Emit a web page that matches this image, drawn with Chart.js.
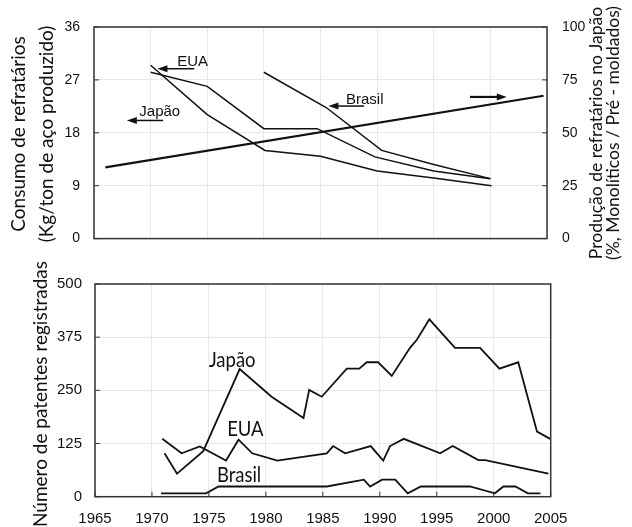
<!DOCTYPE html>
<html>
<head>
<meta charset="utf-8">
<script src="https://cdn.jsdelivr.net/npm/chart.js@4.4.1/dist/chart.umd.min.js"></script>
<style>
    body { margin: 0; background: #fff; width: 632px; height: 527px; position: relative; overflow: hidden; }
    #top-chart { position: absolute; left: 0; top: 0; }
    #bottom-chart { position: absolute; left: 0; top: 262px; }
    .axis-title {
        position: absolute;
        white-space: nowrap;
        text-align: center;
        color: #111;
        transform: translate(-50%, -50%) rotate(-90deg);
    }
</style>
</head>
<body>
<canvas id="top-chart" width="632" height="262"></canvas>
<canvas id="bottom-chart" width="632" height="265"></canvas>

<div class="axis-title" style="left:32px; top:134px; font:19px Lato; line-height:28px;">Consumo de refratários<br>(Kg/ton de aço produzido)</div>
<div class="axis-title" style="left:604px; top:133px; font:17.5px Lato; line-height:17px;">Produção de refratários no Japão<br>(%, Monolíticos / Pré - moldados)</div>
<div class="axis-title" style="left:40px; top:394px; font:19px Lato; line-height:24px;">Número de patentes registradas</div>

<script>
// Top panel: refractory consumption (kg per ton of steel)
const japanYearsTop = [1970, 1975, 1980.1, 1985, 1990, 1995, 2000.1];
const japanTop = [29.5, 21.1, 15.0, 14.0, 11.5, 10.3, 9.0];
const usaYearsTop = [1970, 1975, 1980, 1984.7, 1989.8, 1995, 2000];
const usaTop = [28.3, 25.9, 18.7, 18.7, 13.9, 11.5, 10.2];
const brazilYearsTop = [1980, 1985.5, 1990.4, 1995, 2000];
const brazilTop = [28.3, 22.3, 15.0, 12.6, 10.2];
// Japan monolithic / shaped share (right axis)
const monoYears = [1966, 2004.7];
const monoShare = [33.7, 67.5];

// Bottom panel: registered patents
const japanYears = [1971.1, 1972.2, 1974.5, 1977.7, 1980.5, 1983.3, 1983.8, 1984.9, 1987.1, 1988.2, 1988.85, 1989.85,
    1991.05, 1992.65, 1993.25, 1994.35, 1996.6, 1998.8, 2000.5, 2002.15, 2003.8, 2004.95];
const japanPatents = [102, 54, 107, 300, 235, 185, 251, 235, 301, 301, 316, 316,
    284, 350, 369, 417, 350, 350, 301, 316, 153, 136];
const usaYears = [1970.9, 1972.6, 1974.2, 1976.5, 1977.6, 1978.8, 1981, 1985.35, 1985.9, 1986.95, 1989.2, 1990.3,
    1990.9, 1992.1, 1995.3, 1996.4, 1998.65, 1999.25, 2004.8];
const usaPatents = [136, 102, 118, 85, 134, 102, 85, 102, 119, 102, 119, 85,
    119, 136, 102, 119, 86, 86, 54];
const brazilYears = [1970.8, 1974.75, 1975.85, 1985.35, 1988.6, 1989.15, 1990.2, 1991.35, 1992.45, 1993.6, 1997.9,
    2000.1, 2000.85, 2001.9, 2003, 2004.1];
const brazilPatents = [8, 8, 24, 24, 40, 24, 40, 40, 8, 24, 24, 8, 24, 24, 8, 8];

// Tick labels
const yearTicks = [1965, 1970, 1975, 1980, 1985, 1990, 1995, 2000, 2005];
const consumoTicks = [0, 9, 18, 27, 36];
const shareTicks = [0, 25, 50, 75, 100];
const patentTicks = [0, 125, 250, 375, 500];

const GRID = '#e8e8e8';
const INK = '#111';
Chart.defaults.font.family = "'Liberation Sans', Arial, sans-serif";
Chart.defaults.color = INK;

function points(xs, ys) {
    return xs.map((x, i) => ({ x: x, y: ys[i] }));
}

function lineSet(label, xs, ys, width, axis) {
    return {
        label: label,
        data: points(xs, ys),
        borderColor: INK,
        borderWidth: width,
        pointRadius: 0,
        tension: 0,
        yAxisID: axis || 'y'
    };
}

// frame round the plot area and short inward tick marks
const framePlugin = {
    id: 'frame',
    afterDraw(chart, args, opts) {
        const { ctx, chartArea: a } = chart;
        ctx.save();
        ctx.strokeStyle = '#333';
        ctx.lineWidth = 1.5;
        ctx.strokeRect(a.left, a.top, a.right - a.left, a.bottom - a.top);
        ctx.lineWidth = 1;
        Object.values(chart.scales).forEach(s => {
            if (s.axis === 'x' && !opts.xTicks) return;
            s.ticks.forEach(t => {
                const p = s.getPixelForValue(t.value);
                ctx.beginPath();
                if (s.axis === 'x') {
                    ctx.moveTo(p, a.bottom);
                    ctx.lineTo(p, a.bottom - 5);
                } else if (s.position === 'left') {
                    ctx.moveTo(a.left, p);
                    ctx.lineTo(a.left + 5, p);
                } else {
                    ctx.moveTo(a.right, p);
                    ctx.lineTo(a.right - 5, p);
                }
                ctx.stroke();
            });
        });
        ctx.restore();
    }
};

function drawArrow(ctx, x1, x2, y, width) {
    const dir = x2 > x1 ? 1 : -1;
    ctx.lineWidth = width;
    ctx.beginPath();
    ctx.moveTo(x1, y);
    ctx.lineTo(x2 - dir * 6, y);
    ctx.stroke();
    ctx.beginPath();
    ctx.moveTo(x2, y);
    ctx.lineTo(x2 - dir * 10, y - 3.5);
    ctx.lineTo(x2 - dir * 10, y + 3.5);
    ctx.closePath();
    ctx.fill();
}

// labels and arrows, placed in data units through the chart's own scales
const notesPlugin = {
    id: 'notes',
    afterDatasetsDraw(chart, args, opts) {
        const { ctx } = chart;
        const sx = chart.scales.x, sy = chart.scales.y;
        ctx.save();
        ctx.fillStyle = INK;
        ctx.strokeStyle = INK;
        ctx.textBaseline = 'alphabetic';
        (opts.labels || []).forEach(n => {
            ctx.font = opts.font;
            const px = sx.getPixelForValue(n.x), py = sy.getPixelForValue(n.y);
            ctx.save();
            ctx.translate(px, py);
            ctx.scale(opts.squeeze || 1, 1);
            ctx.fillText(n.text, 0, 0);
            ctx.restore();
        });
        (opts.arrows || []).forEach(r => {
            drawArrow(ctx, sx.getPixelForValue(r.from), sx.getPixelForValue(r.to), sy.getPixelForValue(r.y), r.w);
        });
        ctx.restore();
    }
};

const topChart = new Chart(document.getElementById('top-chart'), {
    type: 'line',
    data: {
        datasets: [
            lineSet('Japão', japanYearsTop, japanTop, 1.5),
            lineSet('EUA', usaYearsTop, usaTop, 1.5),
            lineSet('Brasil', brazilYearsTop, brazilTop, 1.5),
            lineSet('Monolíticos / Pré-moldados', monoYears, monoShare, 2.2, 'y1')
        ]
    },
    options: {
        responsive: false,
        animation: false,
        layout: { padding: { top: 27, bottom: 0, left: 0, right: 0 } },
        plugins: {
            legend: { display: false },
            tooltip: { enabled: false },
            frame: { xTicks: false },
            notes: {
                font: "15px 'Liberation Sans'",
                labels: [
                    { text: 'EUA', x: 1972.35, y: 29.3 },
                    { text: 'Japão', x: 1969.0, y: 20.8 },
                    { text: 'Brasil', x: 1987.25, y: 22.9 }
                ],
                arrows: [
                    { from: 1973.85, to: 1970.6, y: 28.9, w: 1.5 },
                    { from: 1971.1, to: 1967.9, y: 20.1, w: 1.5 },
                    { from: 1988.85, to: 1985.7, y: 22.55, w: 1.5 },
                    { from: 1998.2, to: 2001.45, y: 24.1, w: 2.2 }
                ]
            }
        },
        scales: {
            x: {
                type: 'linear',
                min: yearTicks[0],
                max: yearTicks[yearTicks.length - 1],
                afterBuildTicks: s => { s.ticks = yearTicks.map(v => ({ value: v })); },
                ticks: { display: false },
                grid: { color: GRID, drawTicks: false },
                border: { display: false },
                afterFit: s => { s.height = 15.3; }
            },
            y: {
                position: 'left',
                min: 0,
                max: 36,
                afterBuildTicks: s => { s.ticks = consumoTicks.map(v => ({ value: v })); },
                ticks: { padding: 14, font: { size: 14 } },
                grid: { color: GRID, drawTicks: false },
                border: { display: false },
                afterFit: s => { s.width = 94; }
            },
            y1: {
                position: 'right',
                min: 0,
                max: 100,
                afterBuildTicks: s => { s.ticks = shareTicks.map(v => ({ value: v })); },
                ticks: { padding: 15, font: { size: 14 } },
                grid: { display: false, drawTicks: false },
                border: { display: false },
                afterFit: s => { s.width = 85; }
            }
        }
    },
    plugins: [framePlugin, notesPlugin]
});

const bottomChart = new Chart(document.getElementById('bottom-chart'), {
    type: 'line',
    data: {
        datasets: [
            lineSet('Japão', japanYears, japanPatents, 1.8),
            lineSet('EUA', usaYears, usaPatents, 1.8),
            lineSet('Brasil', brazilYears, brazilPatents, 1.8)
        ]
    },
    options: {
        responsive: false,
        animation: false,
        layout: { padding: { top: 12.3, bottom: 0, left: 0, right: 81.3 } },
        plugins: {
            legend: { display: false },
            tooltip: { enabled: false },
            frame: { xTicks: true },
            notes: {
                font: '21px Lato',
                squeeze: 0.88,
                labels: [
                    { text: 'Japão', x: 1975.0, y: 304 },
                    { text: 'EUA', x: 1976.6, y: 141.7 },
                    { text: 'Brasil', x: 1975.7, y: 34 }
                ]
            }
        },
        scales: {
            x: {
                type: 'linear',
                min: yearTicks[0],
                max: yearTicks[yearTicks.length - 1],
                afterBuildTicks: s => { s.ticks = yearTicks.map(v => ({ value: v })); },
                ticks: { padding: 13, font: { size: 15 }, maxRotation: 0, callback: v => String(v) },
                grid: { color: GRID, drawTicks: false },
                border: { display: false },
                afterFit: s => { s.height = 30.3; }
            },
            y: {
                position: 'left',
                min: 0,
                max: 500,
                afterBuildTicks: s => { s.ticks = patentTicks.map(v => ({ value: v })); },
                ticks: { padding: 13, font: { size: 15 } },
                grid: { color: GRID, drawTicks: false },
                border: { display: false },
                afterFit: s => { s.width = 95; }
            }
        }
    },
    plugins: [framePlugin, notesPlugin]
});
</script>
</body>
</html>
